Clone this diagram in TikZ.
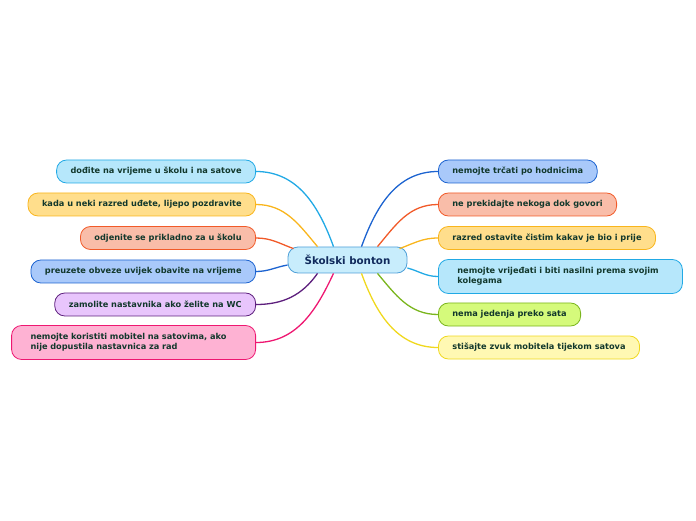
\documentclass[tikz,border=0pt]{standalone}
\usepackage{fontspec}
\setmainfont{DejaVu Sans}
\definecolor{rootfill}{HTML}{C8EDFC}
\definecolor{rootline}{HTML}{4FA0D8}
\definecolor{cyanfill}{HTML}{B6E7FB}
\definecolor{cyanline}{HTML}{21A9E5}
\definecolor{goldfill}{HTML}{FFDE8C}
\definecolor{goldline}{HTML}{F9B51C}
\definecolor{redfill}{HTML}{F9BDA9}
\definecolor{redline}{HTML}{F15A29}
\definecolor{bluefill}{HTML}{A9C9FA}
\definecolor{blueline}{HTML}{1C63D0}
\definecolor{purplefill}{HTML}{E8C5FC}
\definecolor{purpleline}{HTML}{5D1F7D}
\definecolor{pinkfill}{HTML}{FEB2D3}
\definecolor{pinkline}{HTML}{EE1771}
\definecolor{greenfill}{HTML}{D5FA7B}
\definecolor{greenline}{HTML}{7AB51D}
\definecolor{yellowfill}{HTML}{FFF8B3}
\definecolor{yellowline}{HTML}{F0D81E}
\definecolor{leaftext}{HTML}{12382C}
\definecolor{roottext}{HTML}{102A5C}
\tikzset{
  box/.style={rounded corners=10pt, line width=0.8pt, minimum height=23pt,
    inner xsep=14pt, text=leaftext,
    font=\fontsize{8.2}{10}\selectfont\bfseries},
  tone/.style={fill=#1fill, draw=#1line},
  wide/.style={text width=206pt, align=left, inner xsep=19pt, minimum height=34pt},
  link/.style={line width=1.3pt, draw=#1line},
}
\begin{document}
\begin{tikzpicture}[x=1pt, y=1pt]
  \useasboundingbox (0,0) rectangle (696,520);
  % root
  \node[rounded corners=10pt, line width=0.8pt, fill=rootfill, draw=rootline,
    minimum width=119pt, minimum height=26pt, text=roottext,
    font=\fontsize{10.3}{12}\selectfont\bfseries] (root) at (347.5,260) {Školski bonton};
  % left side
  \node[box, tone=cyan, anchor=east] (l1) at (256,348.5) {dođite na vrijeme u školu i na satove};
  \node[box, tone=gold, anchor=east] (l2) at (256,315.5) {kada u neki razred uđete, lijepo pozdravite};
  \node[box, tone=red, anchor=east] (l3) at (256,282) {odjenite se prikladno za u školu};
  \node[box, tone=blue, anchor=east] (l4) at (256,248.5) {preuzete obveze uvijek obavite na vrijeme};
  \node[box, tone=purple, anchor=east] (l5) at (256,215.5) {zamolite nastavnika ako želite na WC};
  \node[box, wide, tone=pink, anchor=east] (l6) at (256,177.5) {nemojte koristiti mobitel na satovima, ako nije dopustila nastavnica za rad};
  % right side
  \node[box, tone=blue, anchor=west] (r1) at (438,348.5) {nemojte trčati po hodnicima};
  \node[box, tone=red, anchor=west] (r2) at (438,315.5) {ne prekidajte nekoga dok govori};
  \node[box, tone=gold, anchor=west] (r3) at (438,282) {razred ostavite čistim kakav je bio i prije};
  \node[box, wide, tone=cyan, anchor=west] (r4) at (438,243.5) {nemojte vrijeđati i biti nasilni prema svojim kolegama};
  \node[box, tone=green, anchor=west] (r5) at (438,205.5) {nema jedenja preko sata};
  \node[box, tone=yellow, anchor=west] (r6) at (438,172.5) {stišajte zvuk mobitela tijekom satova};
  % links
  \draw[link=cyan] ([xshift=-14pt]root.north) to[out=110, in=0] (l1.east);
  \draw[link=gold] ([xshift=-30pt]root.north) to[out=130, in=0] (l2.east);
  \draw[link=red] ([xshift=-54pt, yshift=-2pt]root.north) to[out=160, in=0] (l3.east);
  \draw[link=blue] ([yshift=-5pt]root.west) to[out=190, in=0] (l4.east);
  \draw[link=purple] ([xshift=-30pt]root.south) to[out=235, in=0] (l5.east);
  \draw[link=pink] ([xshift=-14pt]root.south) to[out=245, in=0] (l6.east);
  \draw[link=blue] ([xshift=14pt]root.north) to[out=70, in=180] (r1.west);
  \draw[link=red] ([xshift=30pt]root.north) to[out=50, in=180] (r2.west);
  \draw[link=gold] ([xshift=52pt, yshift=-2pt]root.north) to[out=20, in=180] (r3.west);
  \draw[link=cyan] ([yshift=-8pt]root.east) to[out=-15, in=180] (r4.west);
  \draw[link=green] ([xshift=30pt]root.south) to[out=-50, in=180] (r5.west);
  \draw[link=yellow] ([xshift=14pt]root.south) to[out=-70, in=180] (r6.west);
\end{tikzpicture}
\end{document}
